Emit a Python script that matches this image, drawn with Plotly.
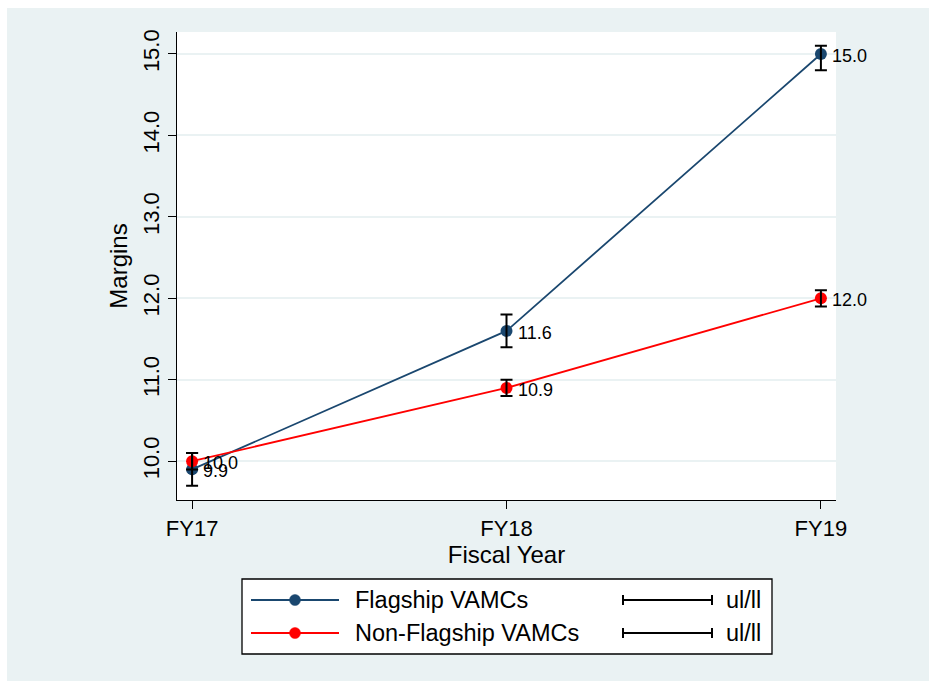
import plotly.graph_objects as go

# ---- data ----
years = ["FY17", "FY18", "FY19"]
series_names = ["Flagship VAMCs", "Non-Flagship VAMCs"]
flag_mean = [9.9, 11.6, 15.0]
flag_ul = [10.1, 11.8, 15.1]
flag_ll = [9.7, 11.4, 14.8]
non_mean = [10.0, 10.9, 12.0]
non_ul = [10.1, 11.0, 12.1]
non_ll = [9.9, 10.8, 11.9]
y_ticks = [10, 11, 12, 13, 14, 15]
ci_label = "ul/ll"

colors = ["#1A476F", "#FF0000"]
BG = "#EAF2F3"
FONT = "Liberation Sans, Arial, sans-serif"

W, H = 929, 681
L, R, T, B = 177, 93, 32, 181
PW, PH = W - L - R, H - T - B


def px(x):
    return (x - L) / PW


def py(y):
    return (H - B - y) / PH


xs = [0, 1, 2]
fig = go.Figure()

means = [flag_mean, non_mean]
uls = [flag_ul, non_ul]
lls = [flag_ll, non_ll]

for i in range(2):
    fig.add_trace(go.Scatter(
        x=xs, y=means[i], mode="lines+markers",
        line=dict(color=colors[i], width=1.8),
        marker=dict(color=colors[i], size=12),
        name=series_names[i], showlegend=False, cliponaxis=False,
    ))

for i in range(2):
    fig.add_trace(go.Scatter(
        x=xs, y=means[i], mode="markers",
        marker=dict(color="rgba(0,0,0,0)", size=1),
        error_y=dict(type="data", symmetric=False,
                     array=[u - m for u, m in zip(uls[i], means[i])],
                     arrayminus=[m - l for l, m in zip(lls[i], means[i])],
                     color="black", thickness=2, width=6),
        showlegend=False, hoverinfo="skip", cliponaxis=False,
    ))

annotations = []
# data labels
for i in range(2):
    for xv, yv in zip(xs, means[i]):
        annotations.append(dict(x=xv, y=yv, xref="x", yref="y", text=f"{yv:.1f}",
                                showarrow=False, xanchor="left", yanchor="middle",
                                xshift=9, yshift=-2,
                                font=dict(family=FONT, size=18, color="black")))

shapes = []
# white outer strips (top and left)
shapes.append(dict(type="rect", xref="paper", yref="paper", x0=px(0), x1=px(W),
                   y0=py(8), y1=py(0), fillcolor="white", line_width=0, layer="above"))
shapes.append(dict(type="rect", xref="paper", yref="paper", x0=px(0), x1=px(7),
                   y0=py(H), y1=py(0), fillcolor="white", line_width=0, layer="above"))
# legend box
shapes.append(dict(type="rect", xref="paper", yref="paper", x0=px(242), x1=px(772),
                   y0=py(654), y1=py(579), fillcolor="white",
                   line=dict(color="black", width=1.3), layer="above"))

row_y = [600, 633]
for i in range(2):
    yy = py(row_y[i])
    shapes.append(dict(type="line", xref="paper", yref="paper", x0=px(251), x1=px(339),
                       y0=yy, y1=yy, line=dict(color=colors[i], width=2), layer="above"))
    shapes.append(dict(type="circle", xref="paper", yref="paper",
                       x0=px(295 - 5.5), x1=px(295 + 5.5),
                       y0=py(row_y[i] + 5.5), y1=py(row_y[i] - 5.5),
                       fillcolor=colors[i], line=dict(color=colors[i], width=0.5), layer="above"))
    annotations.append(dict(xref="paper", yref="paper", x=px(353), y=yy,
                            xanchor="left", yanchor="middle", text=series_names[i],
                            showarrow=False, font=dict(family=FONT, size=23.5, color="black")))
    # ci symbol
    shapes.append(dict(type="line", xref="paper", yref="paper", x0=px(623), x1=px(712),
                       y0=yy, y1=yy, line=dict(color="black", width=2), layer="above"))
    for cx in (623, 712):
        shapes.append(dict(type="line", xref="paper", yref="paper", x0=px(cx), x1=px(cx),
                           y0=py(row_y[i] + 5), y1=py(row_y[i] - 5),
                           line=dict(color="black", width=2), layer="above"))
    annotations.append(dict(xref="paper", yref="paper", x=px(724), y=yy,
                            xanchor="left", yanchor="middle", text=ci_label,
                            showarrow=False, font=dict(family=FONT, size=23.5, color="black")))

fig.update_layout(
    width=W, height=H,
    margin=dict(l=L, r=R, t=T, b=B, pad=0),
    paper_bgcolor=BG, plot_bgcolor="white",
    font=dict(family=FONT, size=22, color="black"),
    shapes=shapes, annotations=annotations,
    showlegend=False,
    xaxis=dict(
        range=[-0.048, 2.048], tickvals=xs, ticktext=years,
        showgrid=False, zeroline=False,
        showline=True, linecolor="black", linewidth=1.3,
        ticks="outside", ticklen=8, tickwidth=1.3, tickcolor="black",
        tickfont=dict(size=22),
        title=dict(text="Fiscal Year", font=dict(size=24), standoff=5),
    ),
    yaxis=dict(
        range=[9.524, 15.27], tickvals=y_ticks,
        ticktext=[f"{v:.1f}" for v in y_ticks], tickangle=-90,
        showgrid=True, gridcolor=BG, gridwidth=1.5, zeroline=False,
        showline=True, linecolor="black", linewidth=1.3,
        ticks="outside", ticklen=8, tickwidth=1.3, tickcolor="black",
        tickfont=dict(size=22),
        title=dict(text="Margins", font=dict(size=24), standoff=4),
    ),
)

fig.write_html("out.html")
